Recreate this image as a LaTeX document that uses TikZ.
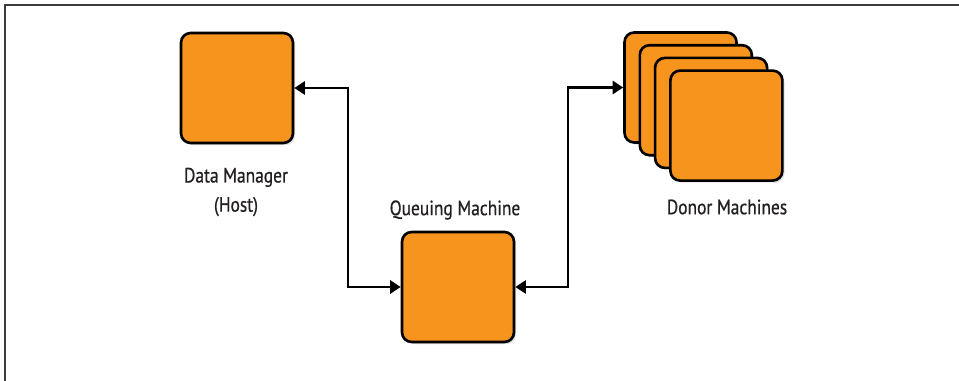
\documentclass[tikz,border=0pt]{standalone}
\usepackage{fontspec}
\setmainfont[FakeStretch=0.84,FakeBold=0.6]{PT Sans}
\usetikzlibrary{arrows.meta,shadows}

\definecolor{boxorange}{RGB}{247,148,29}
\definecolor{framegray}{RGB}{60,60,60}
\definecolor{textgray}{RGB}{35,31,32}

\tikzset{
	machine/.style = {draw, line width=1.5pt, fill=boxorange, rounded corners=5.5pt,
		minimum width=2.24cm, minimum height=2.2cm, inner sep=0pt,
		drop shadow={shadow xshift=1.2pt, shadow yshift=-1.2pt, opacity=0.25}},
	caption/.style = {align=center, text=textgray, font=\fontsize{11.8}{16.6}\selectfont, inner sep=0pt},
	link/.style = {line width=1.25pt, {Triangle[length=6pt,width=7.5pt]}-{Triangle[length=6pt,width=7.5pt]}}
}

\begin{document}
\begin{tikzpicture}[x=0.02cm, y=-0.02cm]
	\useasboundingbox (0,0) rectangle (959,381);
	\fill [white] (0,0) rectangle (959,381);
	\draw [framegray, line width=1.2pt] (5,381) -- (5,5) -- (959,5);
	% hosts
	\node [machine] (dm) at (237,88) {};
	\node [machine] (qm) at (458,287) {};
	% donor stack, back to front
	\foreach \i in {1,...,4}
		\node [machine] (donor\i) at (680.5+15.3*\i-15.3, 87.5+12.7*\i-12.7) {};
	% labels
	\node [caption] (dmtext) at (236,192) {Data Manager\\(Host)};
	\node [caption] (qmtext) at (455,210) {Queuing Machine};
	\node [caption] (donortext) at (727,207) {Donor Machines};
	% connectors
	\draw [link] (dm.east) -- ++(54,0) |- (qm.west);
	\draw [link] (qm.east) -- ++(53,0) |- (donor1.west);
\end{tikzpicture}
\end{document}
